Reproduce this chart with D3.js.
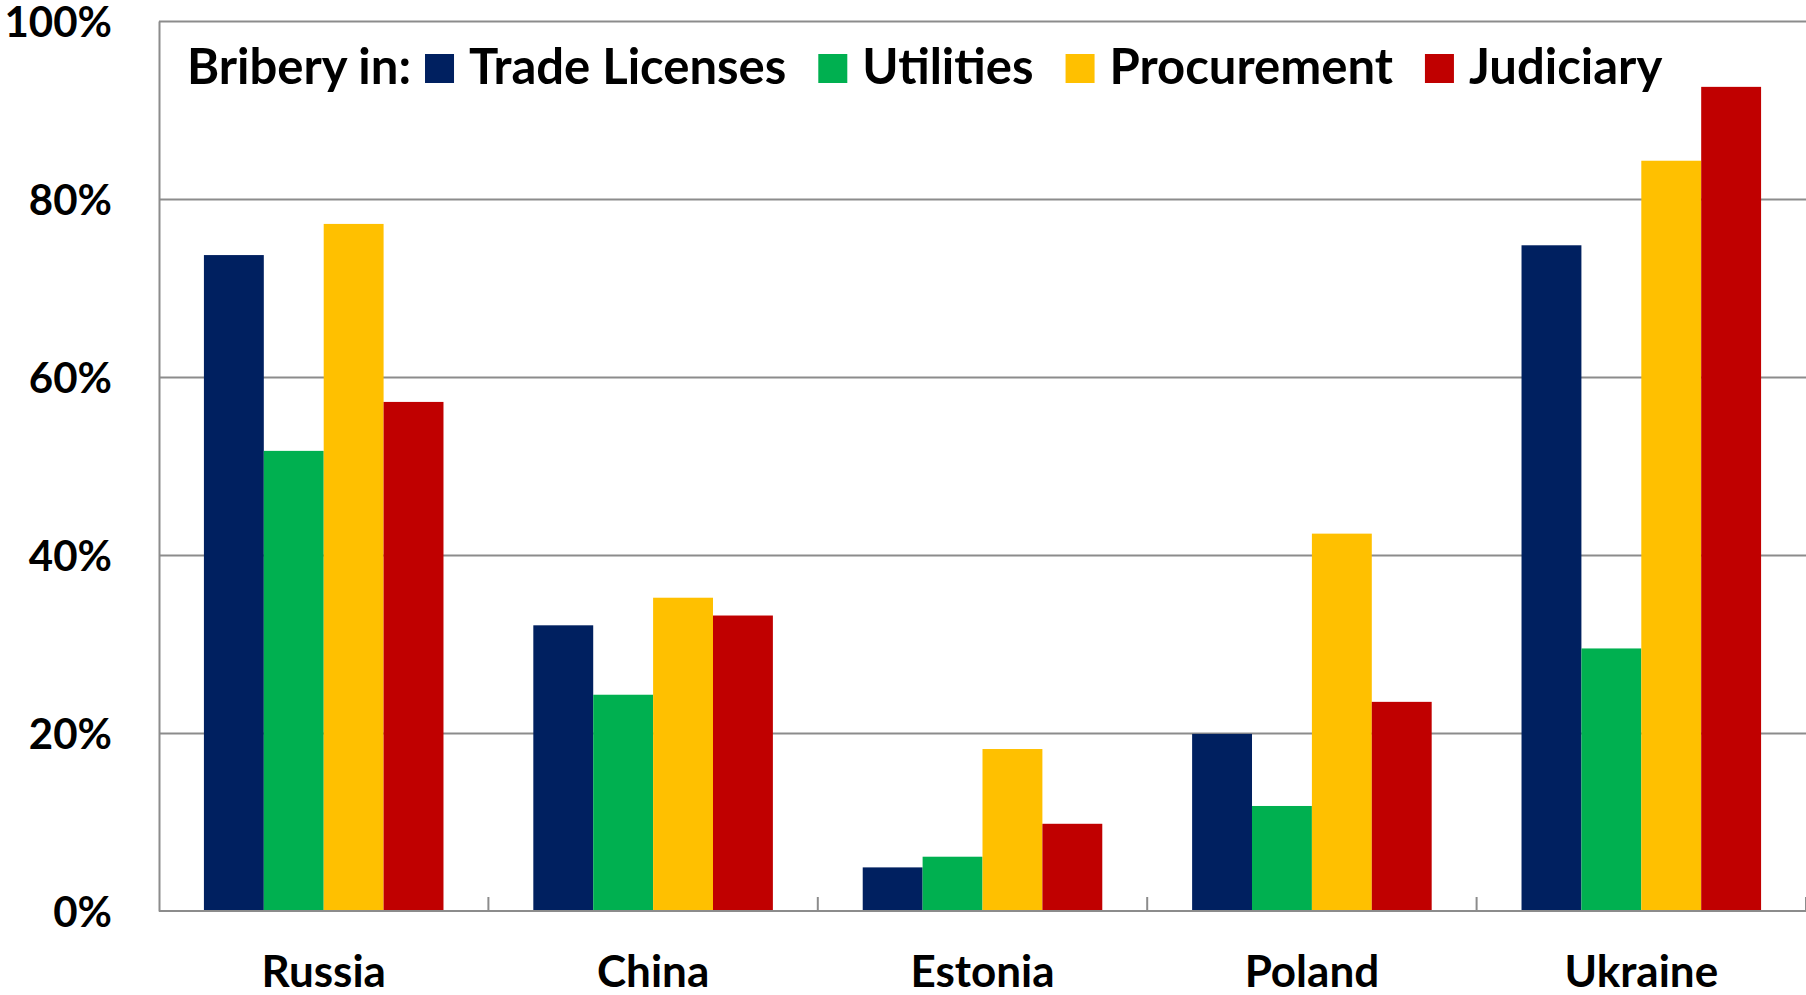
<!DOCTYPE html>
<html>
<head>
<meta charset="utf-8">
<script src="https://cdn.jsdelivr.net/npm/d3@7"></script>
<style>
  html, body { margin: 0; padding: 0; background: #fff; }
  svg { display: block; }
  text { font-family: Lato, "Open Sans", sans-serif; font-weight: bold; fill: #000; }
  .axis path, .axis line { stroke: #8c8c8c; stroke-width: 2; }
  .grid line { stroke: #8c8c8c; stroke-width: 2; }
  .grid path { display: none; }
</style>
</head>
<body>
<svg id="chart" width="1806" height="995"></svg>
<script>
// Countries along the x axis
const countries = ["Russia", "China", "Estonia", "Poland", "Ukraine"];

// Series names and colours (legend order)
const seriesNames = ["Trade Licenses", "Utilities", "Procurement", "Judiciary"];
const seriesColors = ["#002060", "#00B050", "#FFC000", "#C00000"];

// Share of firms reporting bribery, %
const tradeLicenses = [73.7, 32.1, 4.9, 19.9, 74.8];
const utilities     = [51.7, 24.3, 6.1, 11.8, 29.5];
const procurement   = [77.2, 35.2, 18.2, 42.4, 84.3];
const judiciary     = [57.2, 33.2, 9.8, 23.5, 92.6];

const yTicks = [0, 20, 40, 60, 80, 100];

const seriesValues = [tradeLicenses, utilities, procurement, judiciary];

// plot area
const margin = { left: 159, top: 21, right: 0, bottom: 84 };
const width = 1806, height = 995;
const plotW = width - margin.left - margin.right;
const plotH = height - margin.top - margin.bottom;

const svg = d3.select("#chart");
const g = svg.append("g")
  .attr("transform", "translate(" + margin.left + "," + margin.top + ")");

const y = d3.scaleLinear().domain([0, 100]).range([plotH, 0]);
const x0 = d3.scaleBand().domain(countries).range([0, plotW]).padding(0);
// 4 bars with a gap of 1.5 bar widths between groups
const x1 = d3.scaleBand().domain(seriesNames).range([0, x0.bandwidth()])
  .paddingInner(0).paddingOuter(0.75);

// horizontal gridlines
g.append("g")
  .attr("class", "grid")
  .call(d3.axisLeft(y).tickValues(yTicks.filter(d => d > 0)).tickSize(-plotW).tickFormat(""));

// bars
const groups = g.selectAll(".country")
  .data(countries)
  .enter()
  .append("g")
  .attr("class", "country")
  .attr("transform", d => "translate(" + x0(d) + ",0)");

groups.selectAll("rect")
  .data((c, ci) => seriesNames.map((s, si) => ({ s: s, si: si, v: seriesValues[si][ci] })))
  .enter()
  .append("rect")
  .attr("x", d => x1(d.s))
  .attr("y", d => y(d.v))
  .attr("width", x1.bandwidth())
  .attr("height", d => plotH - y(d.v))
  .attr("fill", d => seriesColors[d.si]);

// y axis
const yAxis = g.append("g")
  .attr("class", "axis")
  .call(d3.axisLeft(y).tickValues(yTicks).tickSize(0).tickPadding(47).tickFormat(d => d + "%"));
yAxis.selectAll("text").style("font-size", "42px").attr("dy", "0.36em");

// x axis, ticks point up between the groups
const xAxis = g.append("g")
  .attr("class", "axis")
  .attr("transform", "translate(0," + plotH + ")")
  .call(d3.axisBottom(x0).tickSize(0).tickPadding(0));
xAxis.select(".domain").attr("d", "M0,0H" + plotW);
xAxis.selectAll("text")
  .style("font-size", "44px")
  .attr("y", 76)
  .attr("dy", 0);

g.append("g")
  .attr("class", "axis")
  .selectAll("line")
  .data(countries.slice(1).concat(["end"]))
  .enter()
  .append("line")
  .attr("x1", (d, i) => x0.step() * (i + 1))
  .attr("x2", (d, i) => x0.step() * (i + 1))
  .attr("y1", plotH)
  .attr("y2", plotH - 14);

// legend
const legend = svg.append("g").attr("transform", "translate(187,84)");
const legendTitle = legend.append("text")
  .attr("x", 0).attr("y", 0)
  .style("font-size", "49px")
  .text("Bribery in:");

let lx = legendTitle.node().getComputedTextLength() + 14;
seriesNames.forEach(function(name, i) {
  legend.append("rect")
    .attr("x", lx).attr("y", -30)
    .attr("width", 29).attr("height", 29)
    .attr("fill", seriesColors[i]);
  const t = legend.append("text")
    .attr("x", lx + 29 + 15).attr("y", 0)
    .style("font-size", "49px")
    .text(name);
  lx += 29 + 15 + t.node().getComputedTextLength() + 32;
});
</script>
</body>
</html>
